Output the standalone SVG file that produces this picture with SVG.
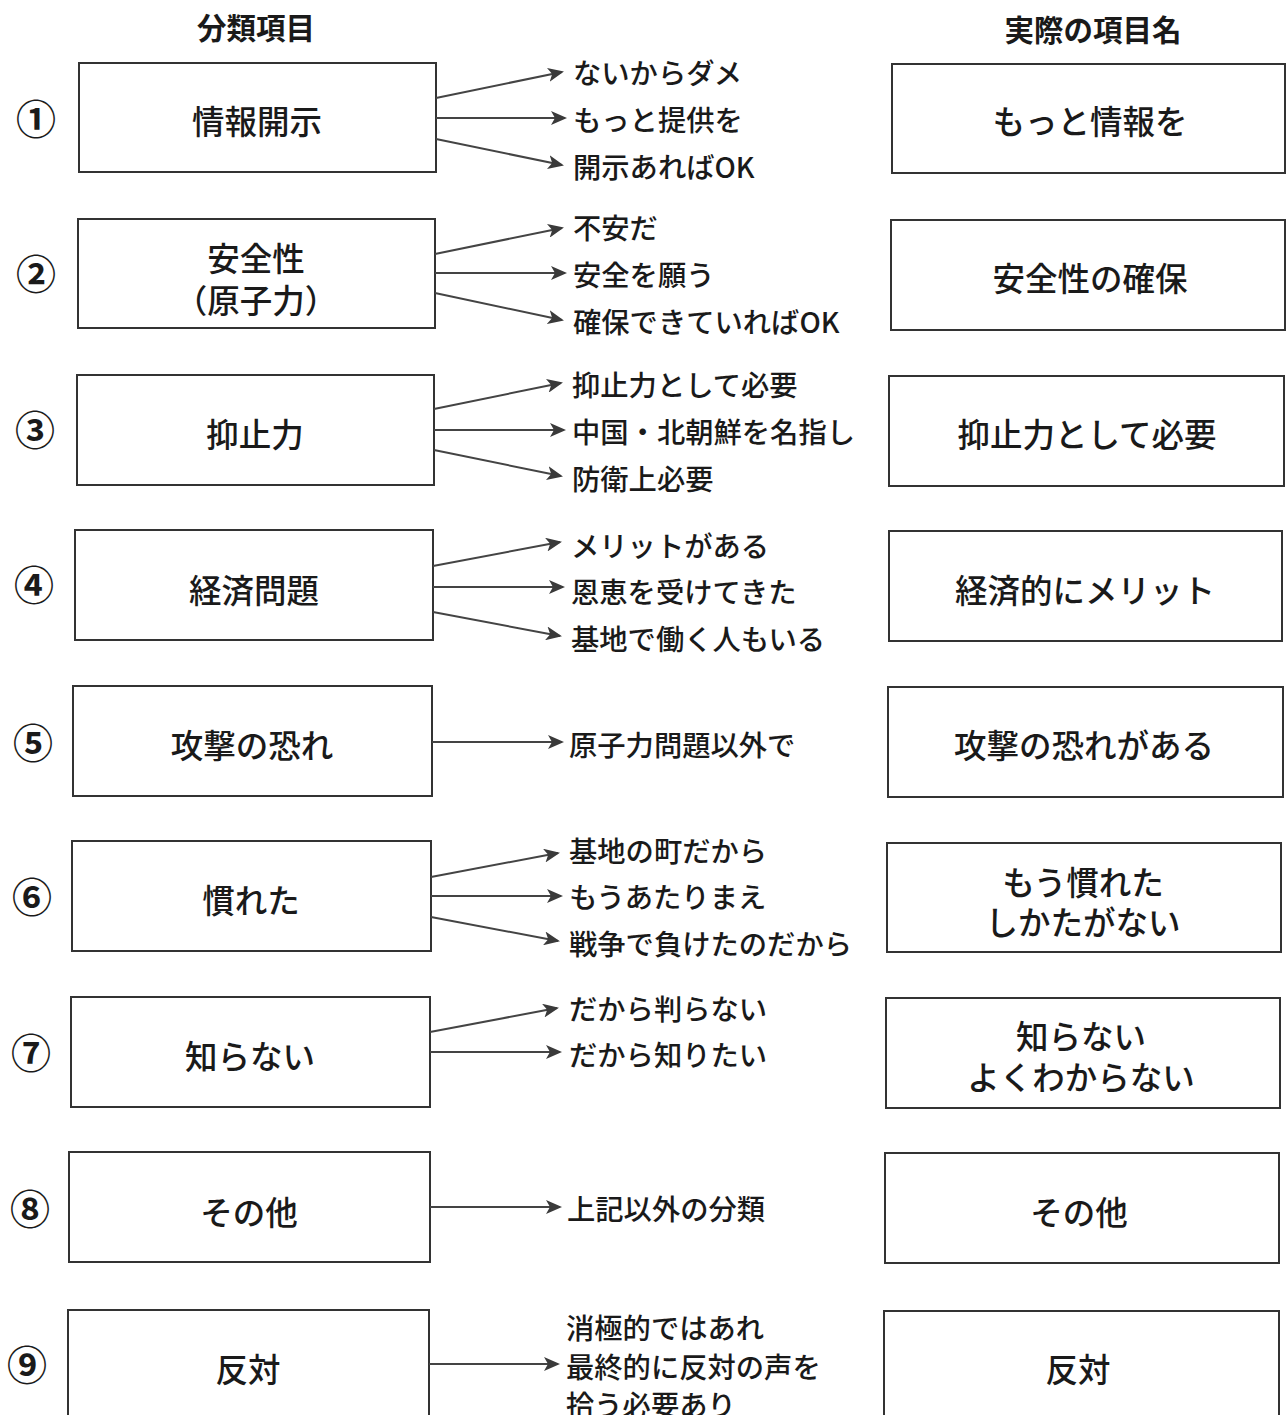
<svg xmlns="http://www.w3.org/2000/svg" width="1287" height="1415" viewBox="0 0 1287 1415">
<defs>
<marker id="ah" markerWidth="16" markerHeight="14" refX="14" refY="7" orient="auto" markerUnits="userSpaceOnUse">
<path d="M0,0 L16,7 L0,14 L4,7 z" fill="#3a3a3a"/>
</marker>
<style>
text{font-family:"Noto Sans CJK JP","Noto Sans CJK SC",sans-serif;fill:#1a1a1a;dominant-baseline:central}
.box{fill:#fff;stroke:#333;stroke-width:2}
.bt{font-size:32.5px;font-weight:500;text-anchor:middle}
.hd{font-size:29.5px;font-weight:700;text-anchor:middle}
.num{font-size:40px;font-weight:700;text-anchor:middle}
.lb{font-size:28.3px;font-weight:500}
.ar{stroke:#444;stroke-width:2;fill:none;marker-end:url(#ah)}
</style>
</defs>
<rect width="1287" height="1415" fill="#fff"/>
<text class="hd" x="256" y="26">分類項目</text>
<text class="hd" x="1093" y="28">実際の項目名</text>

<g id="row1">
<text class="num" x="36" y="117">①</text>
<rect class="box" x="79" y="63" width="357" height="109"/>
<text class="bt" x="257" y="119">情報開示</text>
<text class="lb" x="573" y="71">ないからダメ</text>
<text class="lb" x="573" y="118">もっと提供を</text>
<text class="lb" x="573" y="165">開示あればOK</text>
<rect class="box" x="892" y="64" width="393" height="109"/>
<text class="bt" x="1090" y="119">もっと情報を</text>
</g>

<g id="row2">
<text class="num" x="36" y="272">②</text>
<rect class="box" x="78" y="219" width="357" height="109"/>
<text class="bt" x="256" y="256">安全性</text>
<text class="bt" x="256" y="298">（原子力）</text>
<text class="lb" x="573" y="226">不安だ</text>
<text class="lb" x="573" y="273">安全を願う</text>
<text class="lb" x="573" y="320">確保できていればOK</text>
<rect class="box" x="891" y="220" width="394" height="110"/>
<text class="bt" x="1090" y="276">安全性の確保</text>
</g>

<g id="row3">
<text class="num" x="35" y="428">③</text>
<rect class="box" x="77" y="375" width="357" height="110"/>
<text class="bt" x="255" y="432">抑止力</text>
<text class="lb" x="572" y="383">抑止力として必要</text>
<text class="lb" x="572" y="430">中国・北朝鮮を名指し</text>
<text class="lb" x="572" y="477">防衛上必要</text>
<rect class="box" x="889" y="376" width="395" height="110"/>
<text class="bt" x="1087" y="432">抑止力として必要</text>
</g>

<g id="row4">
<text class="num" x="34" y="583">④</text>
<rect class="box" x="75" y="530" width="358" height="110"/>
<text class="bt" x="254" y="588">経済問題</text>
<text class="lb" x="571" y="544">メリットがある</text>
<text class="lb" x="571" y="590">恩恵を受けてきた</text>
<text class="lb" x="571" y="637">基地で働く人もいる</text>
<rect class="box" x="889" y="531" width="393" height="110"/>
<text class="bt" x="1085" y="588">経済的にメリット</text>
</g>

<g id="row5">
<text class="num" x="33" y="741">⑤</text>
<rect class="box" x="73" y="686" width="359" height="110"/>
<text class="bt" x="252" y="743">攻撃の恐れ</text>
<text class="lb" x="569" y="743">原子力問題以外で</text>
<rect class="box" x="888" y="687" width="395" height="110"/>
<text class="bt" x="1084" y="743">攻撃の恐れがある</text>
</g>

<g id="row6">
<text class="num" x="32" y="895">⑥</text>
<rect class="box" x="72" y="841" width="359" height="110"/>
<text class="bt" x="251" y="898">慣れた</text>
<text class="lb" x="569" y="849">基地の町だから</text>
<text class="lb" x="569" y="895">もうあたりまえ</text>
<text class="lb" x="569" y="942">戦争で負けたのだから</text>
<rect class="box" x="887" y="843" width="394" height="109"/>
<text class="bt" x="1083" y="880">もう慣れた</text>
<text class="bt" x="1083" y="920">しかたがない</text>
</g>

<g id="row7">
<text class="num" x="31" y="1051">⑦</text>
<rect class="box" x="71" y="997" width="359" height="110"/>
<text class="bt" x="250" y="1054">知らない</text>
<text class="lb" x="569" y="1007">だから判らない</text>
<text class="lb" x="569" y="1053">だから知りたい</text>
<rect class="box" x="886" y="998" width="394" height="110"/>
<text class="bt" x="1081" y="1034">知らない</text>
<text class="bt" x="1081" y="1075">よくわからない</text>
</g>

<g id="row8">
<text class="num" x="30" y="1207">⑧</text>
<rect class="box" x="69" y="1152" width="361" height="110"/>
<text class="bt" x="249" y="1210">その他</text>
<text class="lb" x="567" y="1207">上記以外の分類</text>
<rect class="box" x="885" y="1153" width="394" height="110"/>
<text class="bt" x="1079" y="1210">その他</text>
</g>

<g id="row9">
<text class="num" x="27" y="1363">⑨</text>
<rect class="box" x="68" y="1310" width="361" height="120"/>
<text class="bt" x="248" y="1367">反対</text>
<text class="lb" x="566" y="1326">消極的ではあれ</text>
<text class="lb" x="566" y="1365">最終的に反対の声を</text>
<text class="lb" x="566" y="1403">拾う必要あり</text>
<rect class="box" x="884" y="1311" width="395" height="120"/>
<text class="bt" x="1078" y="1367">反対</text>
</g>

<g id="connectors">
<line class="ar" x1="436" y1="98" x2="562" y2="72"/>
<line class="ar" x1="436" y1="118" x2="565" y2="118"/>
<line class="ar" x1="436" y1="139" x2="562" y2="165"/>

<line class="ar" x1="435" y1="254" x2="562" y2="228"/>
<line class="ar" x1="435" y1="273" x2="565" y2="273"/>
<line class="ar" x1="435" y1="293" x2="562" y2="320"/>

<line class="ar" x1="434" y1="409" x2="561" y2="383"/>
<line class="ar" x1="434" y1="430" x2="564" y2="430"/>
<line class="ar" x1="434" y1="450" x2="561" y2="476"/>

<line class="ar" x1="433" y1="566" x2="560" y2="542"/>
<line class="ar" x1="433" y1="587" x2="563" y2="587"/>
<line class="ar" x1="433" y1="612" x2="560" y2="636"/>

<line class="ar" x1="432" y1="742" x2="562" y2="742"/>

<line class="ar" x1="431" y1="877" x2="558" y2="853"/>
<line class="ar" x1="431" y1="896" x2="561" y2="896"/>
<line class="ar" x1="431" y1="917" x2="558" y2="941"/>

<line class="ar" x1="430" y1="1032" x2="557" y2="1008"/>
<line class="ar" x1="430" y1="1052" x2="560" y2="1052"/>

<line class="ar" x1="430" y1="1207" x2="560" y2="1207"/>

<line class="ar" x1="429" y1="1364" x2="558" y2="1364"/>
</g>
</svg>
